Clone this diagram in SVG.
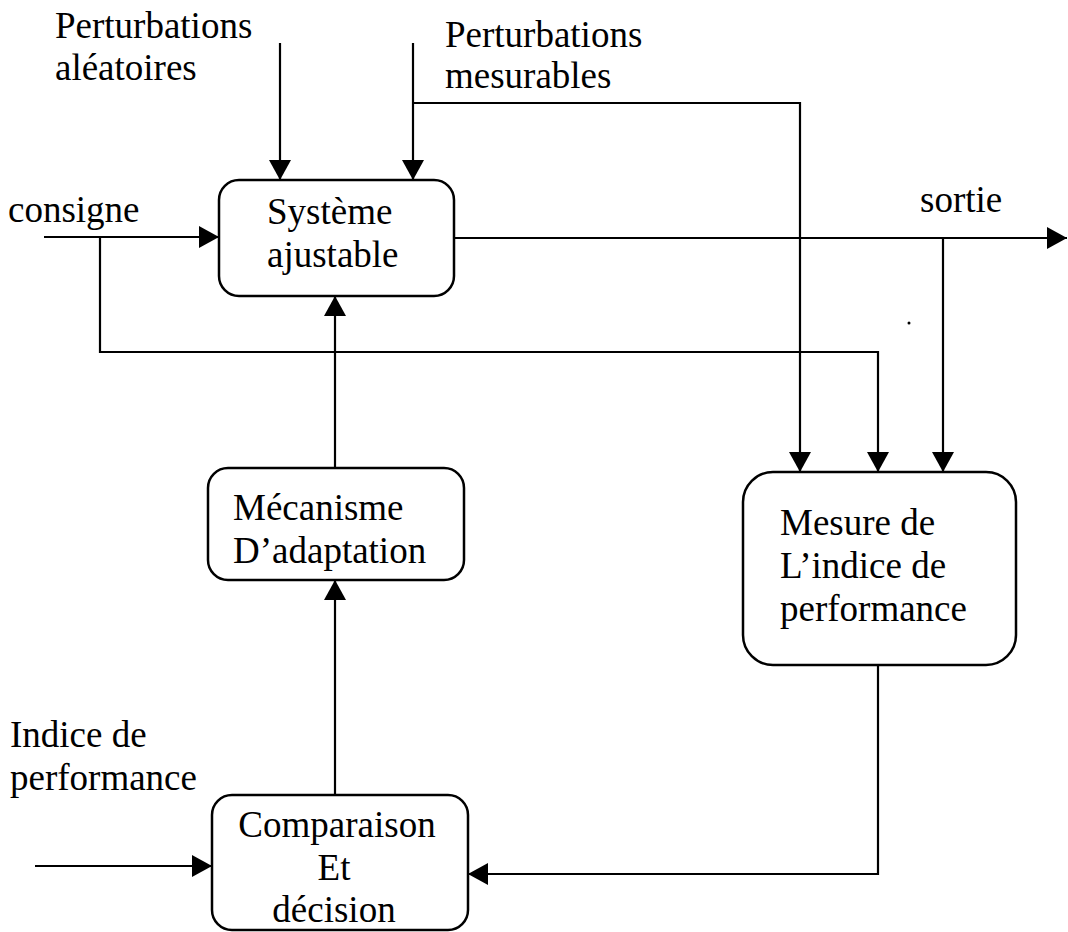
<svg xmlns="http://www.w3.org/2000/svg" width="1068" height="932" viewBox="0 0 1068 932">
<style>
text{font-family:"Liberation Serif","Times New Roman",serif;font-size:37px;fill:#000}
.box{fill:#fff;stroke:#000;stroke-width:2.5}
.ln{fill:none;stroke:#000;stroke-width:2.2}
.arr{marker-end:url(#ah)}
</style>
<defs>
<marker id="ah" viewBox="0 0 20 22" refX="20" refY="11" markerWidth="20" markerHeight="22" markerUnits="userSpaceOnUse" orient="auto"><path d="M0,0 L20,11 L0,22 Z" fill="#000"/></marker>
</defs>
<rect width="1068" height="932" fill="#fff"/>
<g id="connectors">
<path class="ln arr" d="M280,43 V180"/>
<path class="ln arr" d="M413,43 V180"/>
<path class="ln arr" d="M413,103 H800 V472"/>
<path class="ln arr" d="M44,237 H219"/>
<path class="ln arr" d="M100,237 V352 H878 V472"/>
<path class="ln arr" d="M454,238 H1067"/>
<path class="ln arr" d="M943,238 V472"/>
<path class="ln arr" d="M335,468 V296"/>
<path class="ln arr" d="M335,795 V580"/>
<path class="ln arr" d="M35,866 H212"/>
<path class="ln arr" d="M878,665 V874 H468"/>
</g>
<g id="labels">
<text x="55" y="38">Perturbations</text>
<text x="55" y="80">aléatoires</text>
<text x="445" y="47">Perturbations</text>
<text x="445" y="88">mesurables</text>
<text x="8" y="222">consigne</text>
<text x="920" y="212">sortie</text>
<text x="10" y="747">Indice de</text>
<text x="10" y="790">performance</text>
</g>
<g id="systeme">
<rect class="box" x="219" y="180" width="235" height="116" rx="20"/>
<text x="267" y="224">Système</text>
<text x="267" y="267">ajustable</text>
</g>
<g id="mecanisme">
<rect class="box" x="208" y="468" width="256" height="112" rx="20"/>
<text x="233" y="520">Mécanisme</text>
<text x="233" y="563">D’adaptation</text>
</g>
<g id="mesure">
<rect class="box" x="743" y="472" width="273" height="193" rx="30"/>
<text x="780" y="535">Mesure de</text>
<text x="780" y="578">L’indice de</text>
<text x="780" y="621">performance</text>
</g>
<g id="comparaison">
<rect class="box" x="212" y="795" width="256" height="135" rx="20"/>
<text x="337" y="837" text-anchor="middle">Comparaison</text>
<text x="334" y="880" text-anchor="middle">Et</text>
<text x="334" y="922" text-anchor="middle">décision</text>
</g>
<circle cx="909" cy="323" r="1.5" fill="#000"/>
</svg>
